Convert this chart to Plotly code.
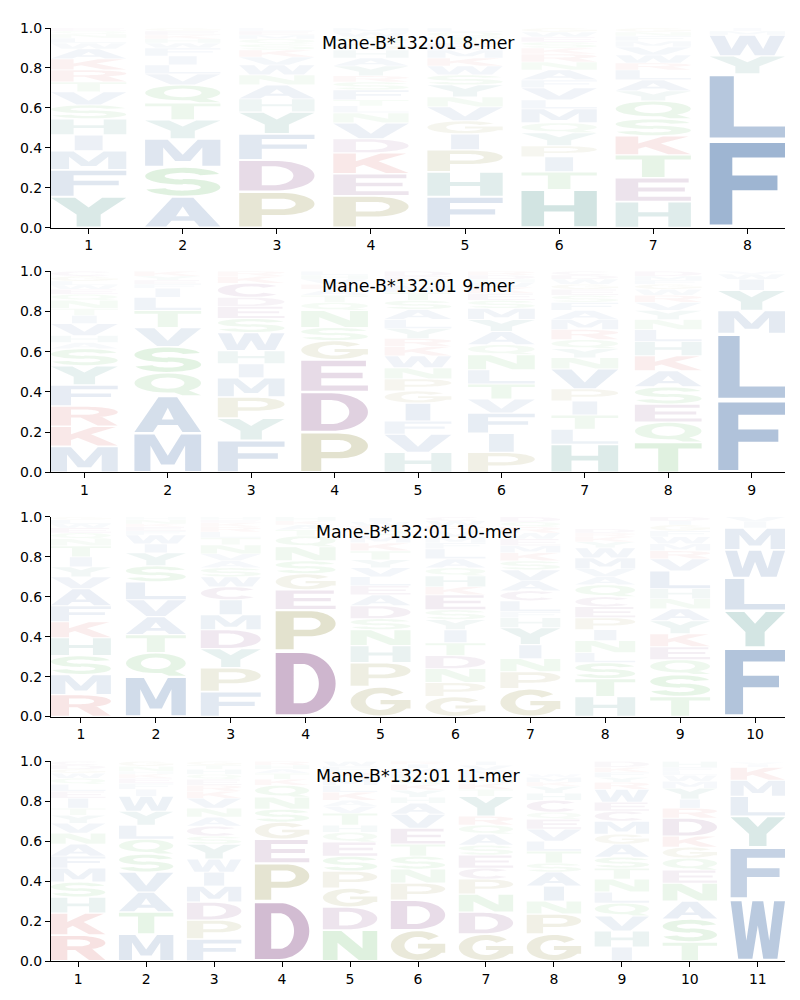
import math
import plotly.graph_objects as go

# ---------------- data (letter, frequency) listed bottom -> top ----------------
titles = ["Mane-B*132:01 8-mer", "Mane-B*132:01 9-mer",
          "Mane-B*132:01 10-mer", "Mane-B*132:01 11-mer"]

mer8 = [
    [("Y",.155),("F",.135),("M",.095),("I",.08),("H",.08),("S",.07),("V",.065),("T",.05),("R",.06),("K",.055),("A",.05),("W",.03),("L",.025),("N",.02),("Q",.015),("E",.015)],
    [("A",.155),("S",.15),("M",.14),("Y",.095),("T",.085),("Q",.09),("V",.055),("L",.045),("I",.045),("F",.04),("W",.025),("H",.02),("K",.02),("E",.02),("G",.015)],
    [("P",.18),("D",.16),("F",.13),("Y",.11),("H",.065),("A",.07),("N",.05),("W",.05),("V",.04),("K",.035),("S",.03),("Q",.025),("M",.02),("E",.02),("L",.015)],
    [("P",.16),("E",.11),("K",.105),("D",.07),("V",.08),("N",.05),("L",.035),("T",.03),("F",.05),("S",.04),("R",.03),("Y",.05),("A",.04),("H",.04),("G",.035),("Q",.03),("W",.025),("M",.02)],
    [("F",.155),("H",.125),("P",.11),("I",.08),("G",.065),("V",.07),("N",.05),("Y",.06),("S",.05),("W",.045),("K",.04),("M",.04),("E",.035),("T",.03),("Q",.025),("L",.02)],
    [("H",.19),("T",.09),("I",.075),("P",.055),("Y",.065),("Q",.05),("M",.07),("L",.045),("V",.06),("F",.04),("A",.05),("N",.04),("R",.04),("K",.03),("S",.03),("E",.025),("W",.025),("G",.02)],
    [("H",.13),("E",.12),("T",.115),("K",.095),("S",.085),("Q",.09),("Y",.05),("A",.055),("L",.05),("R",.035),("W",.04),("V",.04),("M",.03),("F",.025),("N",.02),("G",.02)],
    [("F",.44),("L",.33),("Y",.09),("W",.105),("M",.02),("I",.015)],
]

mer9 = [
    [("M",.13),("K",.1),("R",.1),("F",.105),("Y",.095),("S",.085),("A",.03),("H",.035),("V",.06),("I",.04),("T",.035),("N",.04),("Q",.03),("E",.025),("W",.02),("L",.02),("G",.025),("C",.025)],
    [("M",.195),("A",.185),("Q",.115),("S",.13),("V",.095),("T",.085),("L",.065),("I",.045),("F",.02),("E",.02),("Y",.02),("K",.025)],
    [("F",.16),("Y",.11),("P",.105),("M",.095),("I",.07),("H",.065),("W",.09),("S",.07),("E",.06),("D",.045),("C",.07),("K",.035),("R",.025)],
    [("P",.2),("D",.2),("E",.16),("G",.095),("S",.065),("N",.085),("Q",.04),("T",.035),("A",.03),("K",.025),("V",.025),("H",.02),("L",.02)],
    [("H",.1),("V",.09),("F",.065),("I",.09),("G",.06),("P",.06),("N",.055),("W",.06),("K",.045),("R",.04),("Y",.05),("L",.045),("A",.05),("S",.045),("T",.04),("M",.035),("Q",.025),("E",.02),("D",.025)],
    [("P",.1),("I",.095),("F",.1),("V",.07),("T",.075),("L",.07),("N",.075),("Q",.05),("A",.065),("Y",.06),("M",.055),("S",.04),("E",.035),("K",.03),("W",.025),("H",.015),("D",.02),("R",.02)],
    [("H",.14),("L",.075),("T",.07),("I",.07),("P",.06),("V",.1),("N",.055),("Y",.045),("Q",.045),("R",.05),("M",.05),("A",.045),("F",.04),("S",.035),("E",.03),("G",.025),("W",.025),("D",.02),("C",.02)],
    [("T",.15),("Q",.1),("E",.09),("S",.085),("A",.08),("K",.075),("H",.07),("L",.06),("N",.05),("Y",.045),("V",.04),("R",.035),("W",.03),("G",.025),("F",.02),("M",.02),("D",.025)],
    [("F",.36),("L",.33),("M",.115),("Y",.1),("I",.055),("W",.025),("V",.015)],
]

mer10 = [
    [("R",.11),("M",.1),("S",.095),("H",.09),("K",.08),("F",.08),("A",.085),("V",.06),("Y",.05),("I",.05),("T",.055),("N",.035),("Q",.03),("E",.025),("W",.02),("L",.02),("G",.015)],
    [("M",.2),("Q",.12),("T",.09),("A",.09),("V",.085),("L",.09),("S",.08),("Y",.065),("I",.045),("W",.045),("F",.02),("E",.02),("K",.015),("N",.02),("H",.015)],
    [("F",.125),("P",.12),("Y",.095),("D",.095),("M",.075),("I",.075),("C",.065),("W",.05),("S",.045),("A",.035),("V",.035),("N",.045),("T",.035),("L",.03),("R",.025),("K",.02),("E",.015),("H",.015)],
    [("D",.33),("P",.205),("E",.1),("G",.08),("S",.065),("N",.07),("Q",.055),("T",.03),("A",.025),("K",.02),("H",.02)],
    [("G",.15),("P",.12),("H",.085),("N",.08),("S",.055),("D",.065),("A",.055),("E",.045),("L",.045),("V",.045),("Y",.04),("T",.045),("K",.04),("M",.035),("Q",.03),("R",.02),("W",.02),("I",.02)],
    [("G",.1),("P",.07),("N",.07),("D",.065),("T",.065),("I",.065),("Y",.05),("S",.05),("E",.075),("K",.04),("H",.055),("Q",.04),("A",.045),("L",.05),("F",.03),("M",.03),("V",.03),("R",.025),("W",.025),("C",.02)],
    [("G",.14),("P",.085),("N",.065),("I",.07),("Y",.085),("H",.05),("F",.03),("L",.055),("C",.05),("A",.05),("V",.055),("S",.045),("K",.04),("M",.035),("E",.035),("W",.03),("R",.03),("Q",.025),("D",.025)],
    [("H",.1),("T",.09),("S",.08),("L",.05),("N",.06),("I",.055),("P",.06),("E",.055),("C",.05),("Q",.06),("A",.04),("V",.04),("M",.055),("W",.05),("Y",.03),("K",.025),("R",.02),("D",.02)],
    [("T",.1),("S",.11),("Q",.075),("E",.065),("K",.065),("Y",.065),("A",.06),("N",.05),("H",.05),("L",.09),("V",.06),("R",.04),("M",.035),("W",.035),("F",.03),("G",.03),("I",.02),("D",.02)],
    [("F",.345),("Y",.185),("L",.165),("W",.14),("M",.11),("I",.03),("V",.025)],
]

mer11 = [
    [("R",.13),("K",.11),("H",.08),("S",.075),("M",.07),("F",.06),("A",.06),("N",.055),("V",.05),("Y",.04),("T",.035),("I",.05),("E",.035),("L",.035),("Q",.03),("W",.025),("G",.02),("D",.02),("C",.02)],
    [("M",.135),("T",.11),("A",.1),("V",.1),("S",.09),("Q",.075),("L",.07),("Y",.07),("W",.075),("I",.035),("F",.03),("E",.025),("K",.02),("H",.015),("N",.025),("G",.025)],
    [("F",.11),("P",.095),("D",.09),("M",.08),("I",.07),("W",.065),("Y",.075),("S",.04),("C",.05),("A",.045),("N",.045),("V",.05),("K",.035),("R",.03),("E",.03),("Q",.025),("H",.025),("T",.02),("G",.02)],
    [("D",.3),("P",.19),("E",.12),("G",.085),("S",.065),("N",.06),("Q",.06),("K",.03),("T",.03),("A",.02),("H",.02),("R",.02)],
    [("N",.155),("D",.115),("G",.095),("P",.085),("S",.075),("E",.07),("Q",.05),("H",.035),("T",.06),("V",.035),("A",.03),("K",.04),("L",.035),("M",.035),("R",.03),("F",.03),("W",.025)],
    [("G",.155),("D",.15),("P",.085),("N",.07),("S",.065),("T",.06),("E",.08),("V",.07),("A",.055),("H",.03),("Y",.035),("K",.03),("Q",.03),("L",.025),("M",.025),("I",.02),("R",.015)],
    [("G",.135),("D",.11),("N",.09),("P",.075),("C",.055),("E",.065),("S",.05),("A",.055),("Q",.045),("R",.045),("Y",.1),("T",.035),("K",.03),("H",.025),("L",.02),("M",.02),("V",.025),("I",.02)],
    [("G",.135),("P",.1),("N",.065),("I",.075),("A",.07),("S",.045),("T",.06),("L",.05),("V",.06),("E",.05),("Q",.035),("C",.06),("H",.035),("Y",.035),("K",.02),("M",.025),("W",.015)],
    [("I",.07),("H",.08),("V",.075),("Q",.065),("L",.055),("N",.065),("T",.055),("S",.055),("A",.065),("G",.05),("M",.065),("C",.05),("E",.045),("W",.065),("R",.035),("Y",.025),("F",.025),("K",.025),("D",.03)],
    [("T",.095),("S",.115),("A",.09),("N",.09),("E",.065),("Q",.06),("G",.055),("K",.055),("D",.09),("R",.05),("I",.045),("Y",.055),("M",.035),("W",.03),("L",.02),("F",.02),("H",.03)],
    [("W",.31),("F",.26),("Y",.155),("L",.1),("M",.08),("K",.065),("I",.015),("V",.01)],
]

panels = [mer8, mer9, mer10, mer11]

# ---------------- styling ----------------
group_color = {
    "blue": (40, 90, 155), "purple": (110, 40, 110), "red": (200, 50, 50),
    "teal": (30, 120, 110), "green": (60, 170, 60), "olive": (125, 120, 30),
}
aa_group = {}
for a in "AFILMVW": aa_group[a] = "blue"
for a in "DEC": aa_group[a] = "purple"
for a in "KR": aa_group[a] = "red"
for a in "HY": aa_group[a] = "teal"
for a in "STNQ": aa_group[a] = "green"
for a in "PG": aa_group[a] = "olive"

# ---------------- glyph outlines in unit box ----------------
def ell(cx, cy, rx, ry, a0, a1, n=28):
    return [(cx + rx * math.cos(math.radians(a0 + (a1 - a0) * i / n)),
             cy + ry * math.sin(math.radians(a0 + (a1 - a0) * i / n))) for i in range(n + 1)]

def ring(cx, cy, rxo, ryo, rxi, ryi, a0, a1):
    return ell(cx, cy, rxo, ryo, a0, a1) + ell(cx, cy, rxi, ryi, a1, a0)

G = {}
G["A"] = [([(0,0),(.28,0),(.35,.2),(.65,.2),(.72,0),(1,0),(.64,1),(.36,1)], False),
          ([(.41,.36),(.59,.36),(.5,.7)], True)]
G["C"] = [(ring(.5,.5,.5,.5,.24,.3,40,320), False)]
G["D"] = [([(0,0)] + ell(.45,.5,.55,.5,-90,90) + [(0,1)], False),
          ([(.3,.18)] + ell(.45,.5,.27,.32,-90,90) + [(.3,.82)], True)]
G["E"] = [([(0,0),(1,0),(1,.18),(.3,.18),(.3,.42),(.92,.42),(.92,.6),(.3,.6),(.3,.82),(.97,.82),(.97,1),(0,1)], False)]
G["F"] = [([(0,0),(.3,0),(.3,.42),(.9,.42),(.9,.6),(.3,.6),(.3,.82),(1,.82),(1,1),(0,1)], False)]
G["G"] = [(ell(.5,.5,.5,.5,40,330) + [(1,.25),(1,.56),(.5,.56),(.5,.4),(.74,.4)] + ell(.5,.5,.25,.3,330,40), False)]
G["H"] = [([(0,0),(.3,0),(.3,.42),(.7,.42),(.7,0),(1,0),(1,1),(.7,1),(.7,.6),(.3,.6),(.3,1),(0,1)], False)]
G["I"] = [([(.315,0),(.685,0),(.685,1),(.315,1)], False)]
G["K"] = [([(0,0),(.3,0),(.3,.3),(.4,.42),(.7,0),(1,0),(.6,.6),(.97,1),(.63,1),(.3,.6),(.3,1),(0,1)], False)]
G["L"] = [([(0,0),(1,0),(1,.18),(.32,.18),(.32,1),(0,1)], False)]
G["M"] = [([(0,0),(.24,0),(.24,.7),(.4,.18),(.6,.18),(.76,.7),(.76,0),(1,0),(1,1),(.7,1),(.5,.42),(.3,1),(0,1)], False)]
G["N"] = [([(0,0),(.27,0),(.27,.6),(.66,0),(1,0),(1,1),(.73,1),(.73,.4),(.34,1),(0,1)], False)]
G["P"] = [([(0,0),(.3,0),(.3,.34)] + ell(.55,.67,.45,.33,-90,90) + [(0,1)], False),
          ([(.3,.51)] + ell(.55,.67,.2,.16,-90,90) + [(.3,.83)], True)]
G["Q"] = [(ell(.5,.56,.5,.44,0,360), False), (ell(.5,.56,.25,.26,0,360), True),
          ([(.52,.2),(.72,0),(1,0),(.78,.26)], False)]
G["R"] = [([(0,0),(.3,0),(.3,.42)] + ell(.5,.71,.5,.29,-90,90) + [(0,1)], False),
          ([(.3,.57)] + ell(.5,.71,.22,.14,-90,90) + [(.3,.85)], True),
          ([(.42,.46),(.7,0),(1,0),(.74,.5)], False)]
G["S"] = [(ring(.5,.7,.5,.3,.24,.12,15,270), False), (ring(.5,.3,.5,.3,.24,.12,90,-165), False)]
G["T"] = [([(0,1),(1,1),(1,.82),(.65,.82),(.65,0),(.35,0),(.35,.82),(0,.82)], False)]
G["V"] = [([(0,1),(.3,1),(.5,.3),(.7,1),(1,1),(.66,0),(.34,0)], False)]
G["W"] = [([(0,1),(.2,1),(.29,.32),(.4,1),(.6,1),(.71,.32),(.8,1),(1,1),(.86,0),(.6,0),(.5,.58),(.4,0),(.14,0)], False)]
G["Y"] = [([(0,1),(.32,1),(.5,.66),(.68,1),(1,1),(.66,.42),(.66,0),(.34,0),(.34,.42)], False)]

def signed_area(p):
    return sum(p[i][0] * p[(i + 1) % len(p)][1] - p[(i + 1) % len(p)][0] * p[i][1] for i in range(len(p))) / 2

def glyph_path(letter, x0, x1, y0, y1):
    parts = []
    for pts, hole in G[letter]:
        a = signed_area(pts)
        if (a > 0) == hole:
            pts = pts[::-1]
        s = " L ".join(f"{x0 + px * (x1 - x0):.4f},{y0 + py * (y1 - y0):.4f}" for px, py in pts)
        parts.append("M " + s + " Z")
    return " ".join(parts)

# ---------------- figure ----------------
fig = go.Figure()
domains = [[0.786, 1.0], [0.5236, 0.7394], [0.262, 0.476], [0.0, 0.2141]]
font_fam = "DejaVu Sans"
shapes, annotations = [], []
HALF_W = 0.4
VPAD = 0.035

for k, (data, title) in enumerate(zip(panels, titles)):
    n = len(data)
    sfx = "" if k == 0 else str(k + 1)
    xa, ya = "x" + sfx, "y" + sfx
    positions = list(range(1, n + 1))
    fig.add_trace(go.Scatter(x=positions, y=[0] * n, mode="markers",
                             marker=dict(opacity=0), hoverinfo="skip", showlegend=False,
                             xaxis=xa, yaxis=ya))
    for pos, stack in zip(positions, data):
        bottom = 0.0
        for letter, h in stack:
            top = bottom + h
            pad = h * VPAD
            rgb = group_color[aa_group[letter]]
            alpha = min(1.0, 0.01 + 1.0 * h)
            shapes.append(dict(type="path", xref=xa, yref=ya,
                               path=glyph_path(letter, pos - HALF_W, pos + HALF_W, bottom + pad, top - pad),
                               fillcolor=f"rgba({rgb[0]},{rgb[1]},{rgb[2]},{alpha:.3f})",
                               line=dict(width=0), fillrule="nonzero", layer="above"))
            bottom = top
    axis_common = dict(showgrid=False, zeroline=False, showline=True, linecolor="black",
                       linewidth=1, ticks="outside", ticklen=5, tickwidth=1, tickcolor="black",
                       tickfont=dict(family=font_fam, size=14, color="black"), mirror=False)
    fig.update_layout(**{
        ("xaxis" + sfx): dict(axis_common, domain=[0, 1], anchor=ya, range=[0.6, n + 0.4],
                              tickmode="array", tickvals=positions, ticktext=[str(p) for p in positions]),
        ("yaxis" + sfx): dict(axis_common, domain=domains[k], anchor=xa, range=[0, 1],
                              tickmode="array", tickvals=[0, .2, .4, .6, .8, 1.0],
                              ticktext=["0.0", "0.2", "0.4", "0.6", "0.8", "1.0"]),
    })
    annotations.append(dict(text=title, xref=xa + " domain", yref=ya + " domain", x=0.5, y=0.925,
                            xanchor="center", yanchor="middle", showarrow=False,
                            font=dict(family=font_fam, size=17.4, color="black")))

# page body has an 8px margin, so the figure is 792x992 and offset accordingly
fig.update_layout(width=792, height=992, margin=dict(l=40, r=15, t=14, b=39),
                  plot_bgcolor="white", paper_bgcolor="white",
                  shapes=shapes, annotations=annotations)
fig.write_html("out.html")
